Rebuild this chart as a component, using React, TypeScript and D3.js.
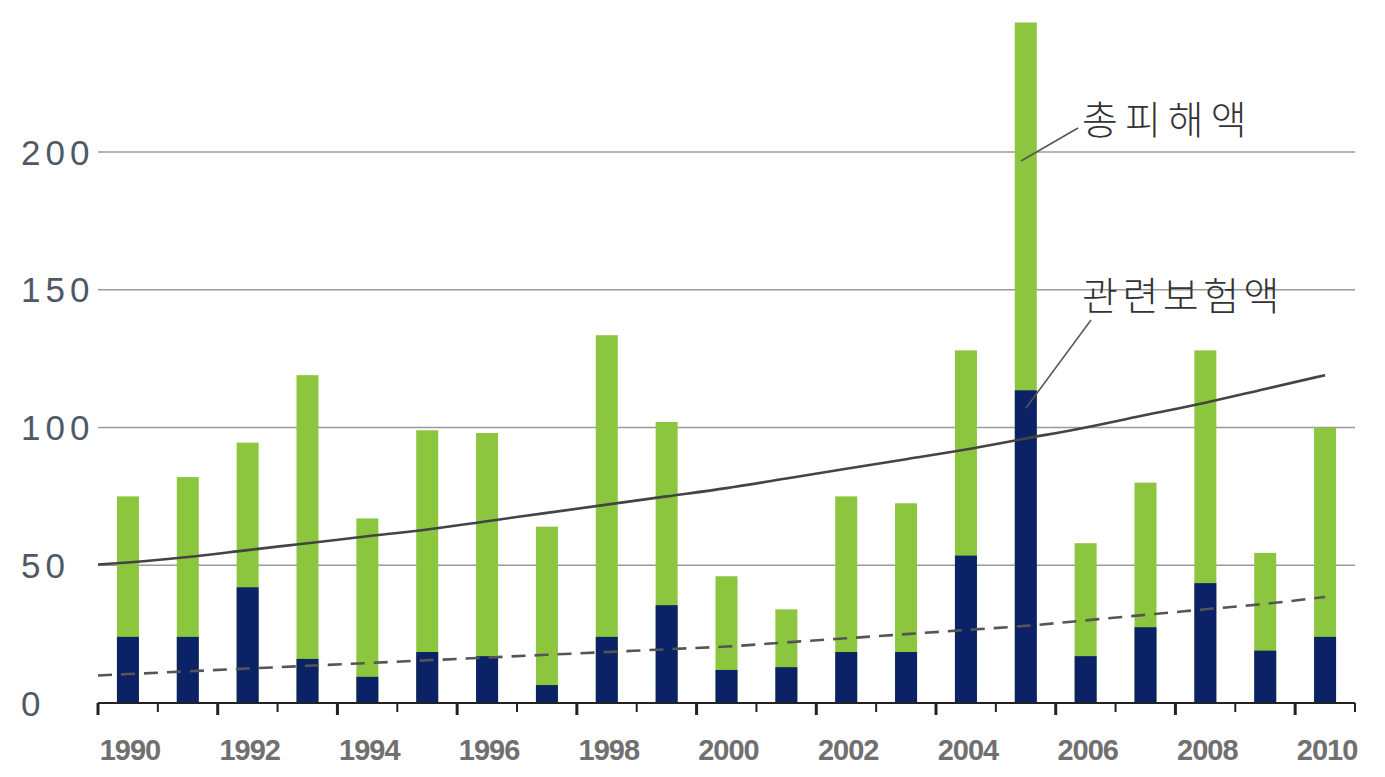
import React from "react";
import * as d3 from "d3";

const years = [1990,1991,1992,1993,1994,1995,1996,1997,1998,1999,2000,2001,2002,2003,2004,2005,2006,2007,2008,2009,2010];
const totalLoss = [75,82,94.5,119,67,99,98,64,133.5,102,46,34,75,72.5,128,247,58,80,128,54.5,100];
const insuredLoss = [24,24,42,16,9.5,18.5,17,6.5,24,35.5,12,13,18.5,18.5,53.5,113.5,17,27.5,43.5,19,24];
const trendYears = [1989.5,1990,1991,1992,1993,1994,1995,1996,1997,1998,1999,2000,2001,2002,2003,2004,2005,2006,2007,2008,2009,2010];
const trendTotal = [50.3,51,53,55.5,58,60.5,63,66,69,72,75,78,81.5,85,88.5,92,96,100,104.5,109,114,119];
const trendInsured = [10,10.5,11.5,12.5,13.5,14.5,15.5,16.5,17.5,18.5,19.5,20.5,22,23.5,25,26.5,28,30,32,34,36,38.5];
const yTicks = [0,50,100,150,200];
const gridTicks = [50,100,150,200];
const xLabelYears = [1990,1992,1994,1996,1998,2000,2002,2004,2006,2008,2010];
const xTickYears = [1989.5,1990.5,1991.5,1992.5,1993.5,1994.5,1995.5,1996.5,1997.5,1998.5,1999.5,2000.5,2001.5,2002.5,2003.5,2004.5,2005.5,2006.5,2007.5,2008.5,2009.5,2010.5];
const labelTotal = "총피해액";
const labelInsured = "관련보험액";

const W = 1385, H = 777;
const left = 98, right = 1355, bottom = 703;

export default function App() {
  const x = d3.scaleLinear().domain([1989.5, 2010.5]).range([left, right]);
  const y = d3.scaleLinear().domain([0, 200]).range([bottom, 152]);
  const barW = 22;
  const line = d3.line<number>().x((_, i) => x(trendYears[i])).y(d => y(d)).curve(d3.curveMonotoneX);

  return (
    <svg width={W} height={H} style={{ position: "absolute", left: 0, top: 0, background: "#fff" }}>
      {gridTicks.map(t => (
        <line key={"g" + t} x1={left} x2={right} y1={y(t)} y2={y(t)} stroke="#9a9a9a" strokeWidth={1.6} />
      ))}
      {yTicks.map(t => (
        <text key={"yl" + t} x={21} y={y(t)} dy="0.36em" fontFamily="Liberation Sans, Arial, sans-serif" fontSize={35} letterSpacing={5} fill="#4e5866">{t}</text>
      ))}
      {years.map((yr, i) => (
        <g key={"b" + yr}>
          <rect x={x(yr) - barW / 2} y={y(totalLoss[i])} width={barW} height={y(0) - y(totalLoss[i])} fill="#8cc63f" />
          <rect x={x(yr) - barW / 2} y={y(insuredLoss[i])} width={barW} height={y(0) - y(insuredLoss[i])} fill="#0c2266" />
        </g>
      ))}
      <path d={line(trendTotal) || ""} fill="none" stroke="#444" strokeWidth={2.6} />
      <path d={line(trendInsured) || ""} fill="none" stroke="#555" strokeWidth={2.6} strokeDasharray="14,9" />
      <line x1={left} x2={right} y1={bottom} y2={bottom} stroke="#222" strokeWidth={2} />
      {xTickYears.map((t, i) => (
        <line key={"t" + t} x1={x(t)} x2={x(t)} y1={bottom} y2={bottom + (i % 2 === 0 ? 12 : 9)} stroke="#222" strokeWidth={i % 2 === 0 ? 3 : 2} />
      ))}
      {xLabelYears.map(yr => (
        <text key={"xl" + yr} x={x(yr) + 2} y={760} textAnchor="middle" fontFamily="Liberation Sans, Arial, sans-serif" fontSize={29} fontWeight={700} fill="#707070" letterSpacing={-1}>{yr}</text>
      ))}
      <line x1={1078} y1={128} x2={1021} y2={161} stroke="#555" strokeWidth={1.5} />
      <text x={1082} y={134} fontFamily="Noto Sans CJK KR, sans-serif" fontSize={39} fontWeight={300} fill="#333" letterSpacing={7}>{labelTotal}</text>
      <line x1={1091} y1={320} x2={1026} y2={408} stroke="#555" strokeWidth={1.5} />
      <text x={1082} y={310} fontFamily="Noto Sans CJK KR, sans-serif" fontSize={39} fontWeight={300} fill="#333" letterSpacing={4.5}>{labelInsured}</text>
    </svg>
  );
}
